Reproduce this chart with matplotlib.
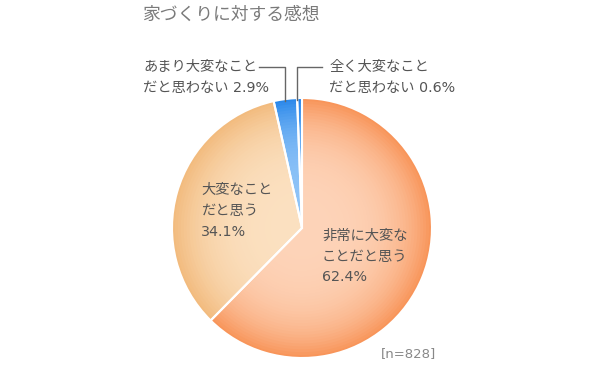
import matplotlib
matplotlib.use("Agg")
import matplotlib.pyplot as plt
import numpy as np
from matplotlib.colors import to_rgb

plt.rcParams['font.family'] = ['DejaVu Sans', 'Noto Sans CJK JP']

title = "家づくりに対する感想"
categories = ["非常に大変なことだと思う", "大変なことだと思う", "あまり大変なことだと思わない", "全く大変なことだと思わない"]
values = [62.4, 34.1, 2.9, 0.6]
n_label = "[n=828]"

edge_colors = ["#F8955A", "#F2BB7E", "#2A88EA", "#1E7FE8"]
center_colors = ["#FDD3B8", "#FBE0C0", "#8EC3F7", "#6FB2F5"]

W, H = 600, 368
fig = plt.figure(figsize=(6, 3.68), dpi=100)
ax = fig.add_axes([0, 0, 1, 1])

cx, cy, R = 302, H - 228, 130

# radial gradient by concentric pies
steps = 45
for i in range(steps):
    s = 1 - i / steps
    r = R * s
    f = s ** 3.5
    cols = []
    for e, c in zip(edge_colors, center_colors):
        e, c = np.array(to_rgb(e)), np.array(to_rgb(c))
        cols.append(tuple(c + (e - c) * f))
    ax.pie(values, colors=cols, startangle=90, counterclock=False,
           center=(cx, cy), radius=r, frame=True,
           wedgeprops=dict(linewidth=0))
# white separators
ax.pie(values, colors=['none'] * 4, startangle=90, counterclock=False,
       center=(cx, cy), radius=R, frame=True,
       wedgeprops=dict(linewidth=1.5, edgecolor='white'))
ax.set_xlim(0, W)
ax.set_ylim(0, H)
ax.set_aspect('equal')
ax.axis('off')

tc = "#555555"
fs = 10.3


def lines(x, ys, texts, **kw):
    for y, s in zip(ys, texts):
        ax.text(x, H - y, s, fontsize=fs, color=tc, va='center', ha='left', **kw)


ax.text(142, H - 15, title, fontsize=12.8, color="#7a7a7a", va='center', ha='left',
        family=['Noto Sans CJK JP'])

# in-pie labels
lines(201, [190, 211, 232], ["大変なこと", "だと思う", "34.1%"])
lines(322, [236, 257, 277], ["非常に大変な", "ことだと思う", "62.4%"])

# outside labels with leaders
lines(143, [67, 88], ["あまり大変なこと", "だと思わない 2.9%"])
lines(329, [67, 88], ["全く大変なこと", "だと思わない 0.6%"])
lc = "#666666"
ax.plot([259, 285, 285], [H - 67, H - 67, H - 101], color=lc, lw=1)
ax.plot([322, 297, 297], [H - 67, H - 67, H - 100], color=lc, lw=1)

ax.text(408, H - 354, n_label, fontsize=9.5, color="#888888", va='center', ha='center')

fig.savefig("out.png", dpi=100)
